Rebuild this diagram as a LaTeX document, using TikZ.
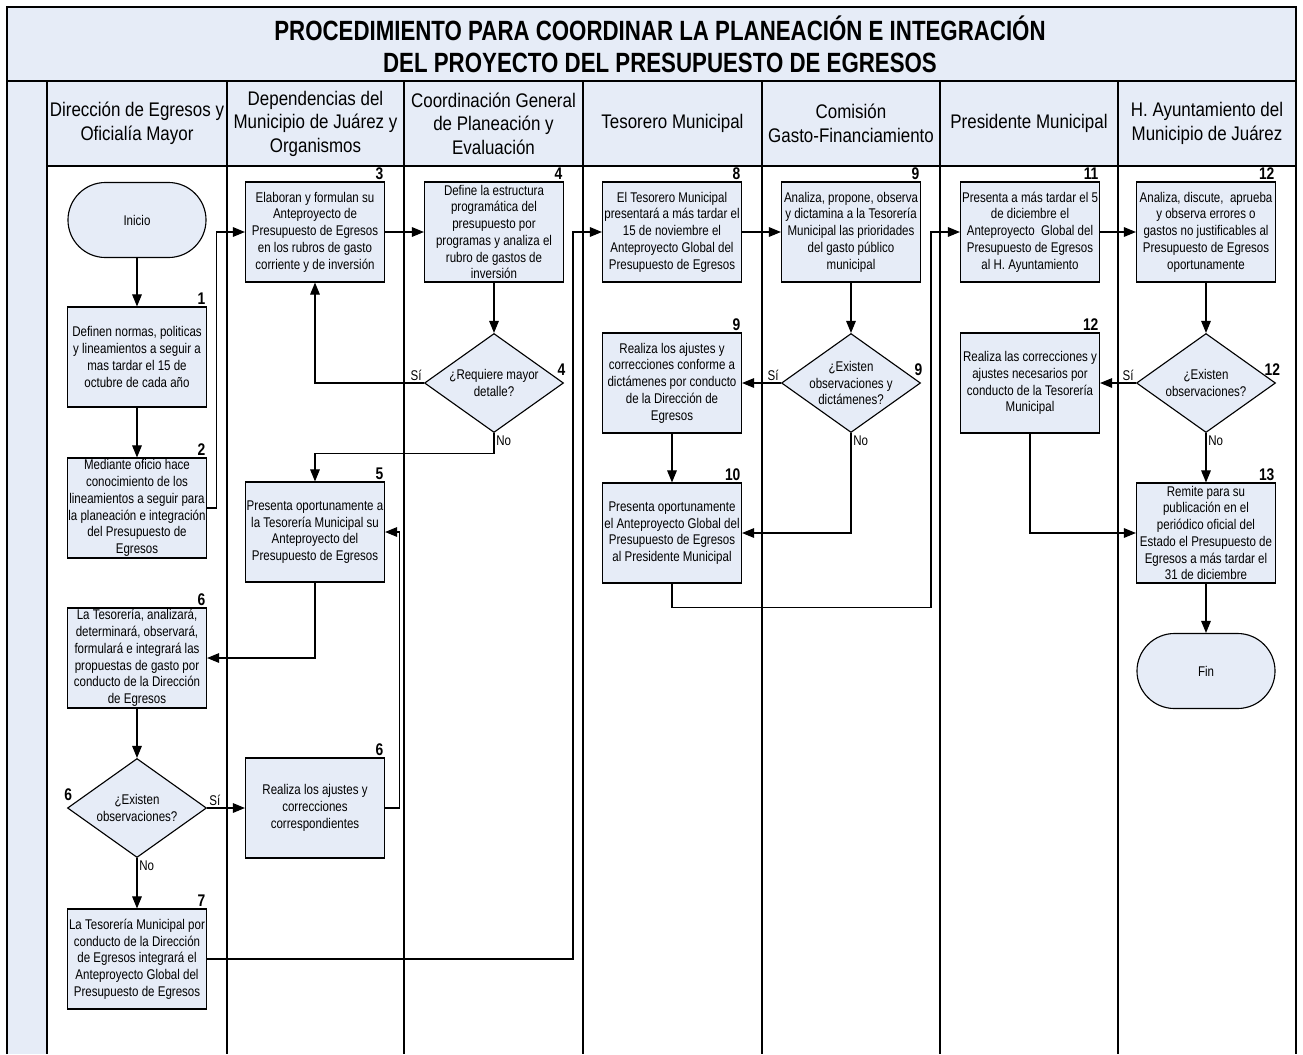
\documentclass[tikz,border=0pt]{standalone}
\usepackage{fontspec}
\setmainfont{Liberation Sans}[FakeStretch=0.82]
\newfontfamily\titlefont{Liberation Sans}[FakeStretch=0.8]
\newfontfamily\headfont{Liberation Sans}[FakeStretch=0.86]
\usepackage{xcolor}
\usepackage{tikz}
\usetikzlibrary{arrows.meta,shapes.geometric}
\definecolor{laneblue}{RGB}{230,236,247}

\begin{document}
\begin{tikzpicture}[x=0.025cm,y=-0.025cm,
    lane/.style={line width=1.4pt},
    lanehead/.style={align=center,font=\headfont\fontsize{14}{16.7}\selectfont},
    box/.style={draw,line width=0.8pt,fill=laneblue,minimum width=3.475cm,
      minimum height=2.5cm,inner sep=0pt,align=center,
      font=\fontsize{10}{11.9}\selectfont},
    terminal/.style={draw,line width=0.8pt,fill=laneblue,rounded corners=0.9375cm,
      minimum width=3.45cm,minimum height=1.875cm,font=\fontsize{10}{11.9}\selectfont},
    decision/.style={draw,line width=0.8pt,fill=laneblue,diamond,inner sep=0pt,
      minimum width=3.475cm,minimum height=2.475cm},
    dtext/.style={align=center,inner sep=0pt,font=\fontsize{10}{11.9}\selectfont},
    stepnum/.style={anchor=south east,inner sep=1pt,font=\bfseries\fontsize{12}{12}\selectfont},
    answer/.style={inner sep=1.5pt,font=\fontsize{10}{10}\selectfont},
    flow/.style={line width=0.8pt,-{Triangle[length=0.3cm,width=0.24cm]}}]
  \useasboundingbox (0,0) rectangle (1303,1054);

  % frame and lanes
  \fill[laneblue] (7,7) rectangle (1296,166);
  \fill[laneblue] (7,166) rectangle (47,1054);
  \draw[lane] (7,1054) -- (7,7) -- (1296,7) -- (1296,1054);
  \draw[lane] (7,81) -- (1296,81);
  \draw[lane] (47,166) -- (1296,166);
  \foreach \x in {47,227,404,583,762,940,1118} {
    \draw[lane] (\x,81) -- (\x,1054);
  }
  \node[align=center,font=\titlefont\bfseries\fontsize{19.8}{22.7}\selectfont] (title) at (660,44)
    {PROCEDIMIENTO PARA COORDINAR LA PLANEACIÓN E INTEGRACIÓN\\DEL PROYECTO DEL PRESUPUESTO DE EGRESOS};
  \foreach \x/\t [count=\i] in {137/{Dirección de Egresos y\\Oficialía Mayor},
      315.5/{Dependencias del\\Municipio de Juárez y\\Organismos},
      493.5/{Coordinación General\\de Planeación y\\Evaluación},
      672.5/{Tesorero Municipal},
      851/{Comisión\\Gasto-Financiamiento},
      1029/{Presidente Municipal},
      1207/{H. Ayuntamiento del\\Municipio de Juárez}} {
    \node[lanehead] (h\i) at (\x,123.5) {\t};
  }

  % Direccion de Egresos
  \node[terminal] (ini) at (137,220) {Inicio};
  \node[box] (b1) at (137,357) {Definen normas, politicas\\y lineamientos a seguir a\\mas tardar el 15 de\\octubre de cada año};
  \node[box] (b2) at (137,508) {Mediante oficio hace\\conocimiento de los\\lineamientos a seguir para\\la planeación e integración\\del Presupuesto de\\Egresos};
  \node[box] (b6a) at (137,658) {La Tesorería, analizará,\\determinará, observará,\\formulará e integrará las\\propuestas de gasto por\\conducto de la Dirección\\de Egresos};
  \node[decision] (d6) at (137,808) {};
  \node[dtext] (t6) at (d6) {¿Existen\\observaciones?};
  \node[box] (b7) at (137,959) {La Tesorería Municipal por\\conducto de la Dirección\\de Egresos integrará el\\Anteproyecto Global del\\Presupuesto de Egresos};

  % Dependencias
  \node[box] (b3) at (315,232) {Elaboran y formulan su\\Anteproyecto de\\Presupuesto de Egresos\\en los rubros de gasto\\corriente y de inversión};
  \node[box] (b5) at (315,532) {Presenta oportunamente a\\la Tesorería Municipal su\\Anteproyecto del\\Presupuesto de Egresos};
  \node[box] (b6b) at (315,808) {Realiza los ajustes y\\correcciones\\correspondientes};

  % Coordinacion General
  \node[box] (b4) at (494,232) {Define la estructura\\programática del\\presupuesto por\\programas y analiza el\\rubro de gastos de\\inversión};
  \node[decision] (d4) at (494,383) {};
  \node[dtext] (t4) at (d4) {¿Requiere mayor\\detalle?};

  % Tesorero
  \node[box] (b8) at (672,232) {El Tesorero Municipal\\presentará a más tardar el\\15 de noviembre el\\Anteproyecto Global del\\Presupuesto de Egresos};
  \node[box] (b9b) at (672,383) {Realiza los ajustes y\\correcciones conforme a\\dictámenes por conducto\\de la Dirección de\\Egresos};
  \node[box] (b10) at (672,533) {Presenta oportunamente\\el Anteproyecto Global del\\Presupuesto de Egresos\\al Presidente Municipal};

  % Comision
  \node[box] (b9a) at (851,232) {Analiza, propone, observa\\y dictamina a la Tesorería\\Municipal las prioridades\\del gasto público\\municipal};
  \node[decision] (d9) at (851,383) {};
  \node[dtext] (t9) at (d9) {¿Existen\\observaciones y\\dictámenes?};

  % Presidente
  \node[box] (b11) at (1030,232) {Presenta a más tardar el 5\\de diciembre el\\Anteproyecto \ Global del\\Presupuesto de Egresos\\al H. Ayuntamiento};
  \node[box] (b12b) at (1030,383) {Realiza las correcciones y\\ajustes necesarios por\\conducto de la Tesorería\\Municipal};

  % Ayuntamiento
  \node[box] (b12a) at (1206,232) {Analiza, discute, \ aprueba\\y observa errores o\\gastos no justificables al\\Presupuesto de Egresos\\oportunamente};
  \node[decision] (d12) at (1206,383) {};
  \node[dtext] (t12) at (d12) {¿Existen\\observaciones?};
  \node[box] (b13) at (1206,533) {Remite para su\\publicación en el\\periódico oficial del\\Estado el Presupuesto de\\Egresos a más tardar el\\31 de diciembre};
  \node[terminal] (fin) at (1206,671) {Fin};

  % step numbers
  \foreach \n/\s in {b1/1,b2/2,b3/3,b4/4,b5/5,b6a/6,b6b/6,b7/7,b8/8,b9a/9,b9b/9,b10/10,b11/11,b12a/12,b12b/12,b13/13} {
    \node[stepnum] (n\n) at (\n.north east) {\s};
  }
  \node[stepnum] (nd4) at ([xshift=2pt,yshift=0.15cm]d4.east) {4};
  \node[stepnum] (nd9) at ([xshift=2pt,yshift=0.15cm]d9.east) {9};
  \node[stepnum] (nd12) at ([xshift=4pt,yshift=0.15cm]d12.east) {12};
  \node[stepnum,anchor=south west] (nd6) at ([xshift=-3pt,yshift=0.15cm]d6.west) {6};

  % answers
  \node[answer,anchor=south east] (s4) at (d4.west) {Sí};
  \node[answer,anchor=south east] (s9) at (d9.west) {Sí};
  \node[answer,anchor=south east] (s12) at (d12.west) {Sí};
  \node[answer,anchor=south west] (s6) at (d6.east) {Sí};
  \foreach \d in {d4,d6,d9,d12} {
    \node[answer,anchor=north west] (no\d) at (\d.south) {No};
  }

  % connectors
  \coordinate (c7) at (573,232);
  \coordinate (c10) at (931,232);
  \draw[flow] (ini) -- (b1);
  \draw[flow] (b1) -- (b2);
  \draw[flow] (b2.east) -- ++(9,0) |- (b3.west);
  \draw[flow] (b3) -- (b4);
  \draw[flow] (b4) -- (d4);
  \draw[flow] (d4.west) -| (b3.south);
  \draw[flow] (d4.south) -- ++(0,20) -| (b5.north);
  \draw[flow] (b5.south) |- (b6a.east);
  \draw[flow] (b6a) -- (d6);
  \draw[flow] (d6.east) -- (b6b.west);
  \draw[flow] (b6b.east) -- ++(14,0) |- (b5.east);
  \draw[flow] (d6.south) -- (b7.north);
  \draw[flow] (b7.east) -| (c7) -- (b8.west);
  \draw[flow] (b8) -- (b9a);
  \draw[flow] (b9a) -- (d9);
  \draw[flow] (d9.west) -- (b9b.east);
  \draw[flow] (d9.south) |- (b10.east);
  \draw[flow] (b9b) -- (b10);
  \draw[flow] (b10.south) -- ++(0,24) -| (c10) -- (b11.west);
  \draw[flow] (b11) -- (b12a);
  \draw[flow] (b12a) -- (d12);
  \draw[flow] (d12.west) -- (b12b.east);
  \draw[flow] (d12.south) -- (b13.north);
  \draw[flow] (b12b.south) |- (b13.west);
  \draw[flow] (b13) -- (fin);
\end{tikzpicture}
\end{document}
